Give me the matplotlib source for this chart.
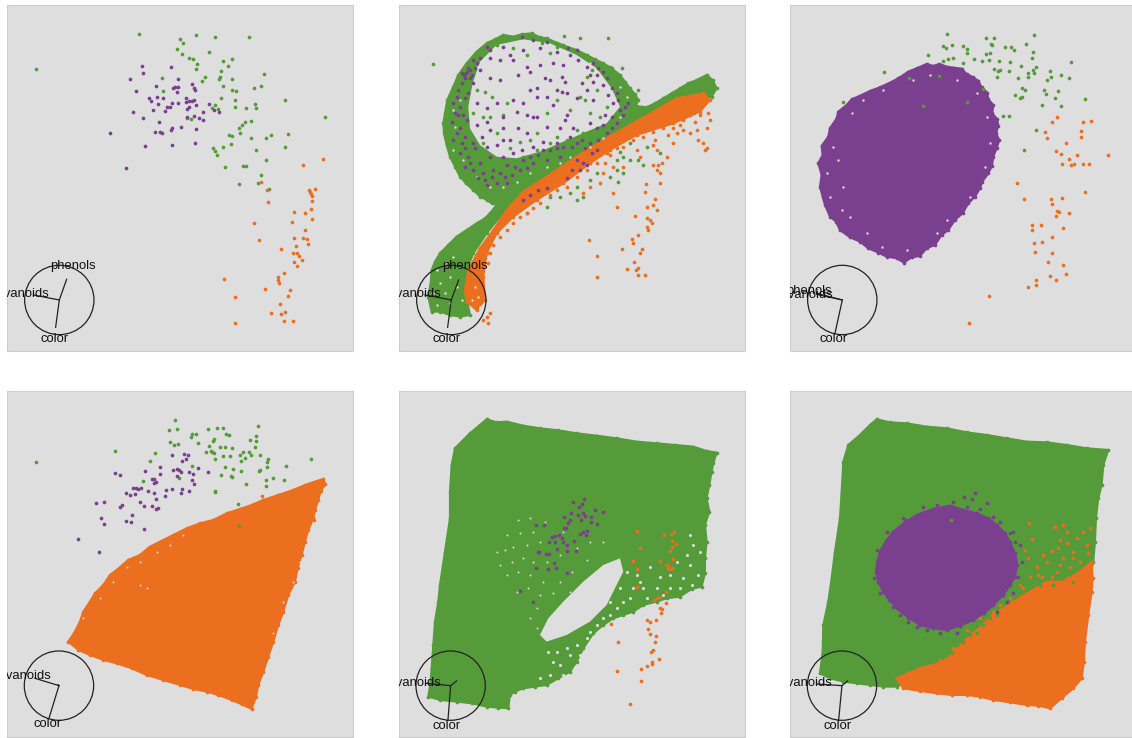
import numpy as np
import matplotlib
matplotlib.use('Agg')
import matplotlib.pyplot as plt
from matplotlib.patches import Circle

plt.rcParams['font.family'] = ['Liberation Sans', 'DejaVu Sans']

green = '#559b39'
orange = '#eb6f1f'
purple = '#7a408f'
bg = '#dedede'
edge = '#cdcdcd'

# all values are read off the picture, panel units (1 unit = 1/3 pixel)
# panel 1
p1_green = [(418,102),(541,118),(587,105),(645,111),(747,112),(550,129),(530,146),(627,156),(545,163),(566,173),(578,176),(669,183),(696,176),(592,192),(683,197),(589,207),(108,206),(664,212),(793,221),(614,230),(660,230),(657,238),(487,235),(696,238),(606,244),(670,258),(784,258),(762,264),(488,274),(696,270),(708,274),(664,295),(705,299),(856,299),(764,311),(646,316),(706,320),(737,324),(767,324),(635,324),(655,327),(975,352),(752,363),(736,367),(727,376),(718,385),(561,355),(574,356),(719,398),(686,404),(695,407),(752,413),(797,414),(812,404),(863,402),(692,433),(856,440),(670,442),(639,445),(644,453),(769,450),(652,466),(798,481),(675,500),(728,497),(739,497),(783,526),(718,551),(775,550),(808,566)]
p1_purple = [(426,197),(513,200),(429,218),(391,238),(535,238),(577,251),(469,259),(533,260),(526,262),(519,264),(583,265),(586,269),(407,272),(531,277),(447,295),(472,292),(489,293),(557,295),(583,299),(454,304),(558,306),(566,302),(575,304),(474,313),(516,309),(533,309),(628,313),(587,316),(500,320),(509,322),(568,321),(560,328),(459,329),(642,331),(658,336),(496,334),(400,336),(610,336),(583,348),(562,350),(430,353),(598,355),(609,360),(476,366),(543,380),(517,384),(512,390),(588,386),(331,399),(464,397),(479,396),(485,399),(435,438),(517,435),(586,429),(378,505)]
p1_orange = [(970,476),(909,494),(783,547),(800,571),(946,568),(926,570),(929,577),(932,582),(935,587),(935,603),(804,607),(934,628),(881,637),(915,640),(936,658),(877,665),(763,668),(916,691),(881,715),(908,713),(922,716),(776,720),(924,731),(888,739),(842,748),(880,760),(892,759),(898,767),(905,779),(883,787),(890,799),(851,818),(833,832),(834,840),(837,848),(673,837),(869,870),(796,866),(863,889),(704,892),(839,913),(812,938),(844,943),(855,937),(852,963),(879,963),(705,968)]

# panel 2
p2_green_cloud = [(340,105),(370,110),(395,103),(425,100),(450,112),(470,115),(500,128),(530,140),(560,150),(590,165),(615,178),(640,190),(665,205),(690,225),(705,245),(720,265),(735,283),(745,300),(738,318),(770,322),(795,310),(820,295),(845,280),(870,265),(895,250),(920,240),(950,225),(968,240),(980,265),(965,290),(930,300),(880,320),(820,345),(760,370),(700,395),(640,430),(580,470),(500,520),(440,560),(380,600),(330,650),(290,700),(250,760),(230,810),(225,870),(240,945),(210,950),(180,945),(150,935),(125,935),(115,890),(122,850),(125,810),(135,785),(150,760),(175,735),(200,710),(230,690),(260,670),(285,655),(300,640),(320,615),(305,610),(290,600),(270,590),(250,570),(228,550),(210,530),(195,500),(180,470),(170,435),(162,400),(160,370),(165,340),(172,300),(190,260),(205,225),(230,190),(260,155),(290,130),(315,118)]
p2_green_hole = [(270,185),(320,135),(400,118),(480,130),(560,165),(620,205),(665,265),(690,320),(650,370),(590,395),(520,425),(450,455),(380,475),(320,470),(270,435),(240,385),(235,320),(248,250)]
p2_orange_cloud = [(225,870),(235,810),(270,745),(310,690),(350,630),(400,575),(470,530),(560,470),(640,420),(720,375),(800,330),(860,295),(940,280),(960,300),(930,335),(850,370),(740,405),(660,450),(600,490),(520,550),(440,600),(370,650),(320,700),(290,760),(280,830),(285,900),(260,930),(230,905)]
p2_gaps = [(190,330),(210,300),(195,380),(190,450),(220,480),(260,530),(300,560),(340,560),(380,545),(420,520),(470,500),(510,490),(540,470),(600,440),(640,415),(690,350),(710,290),(690,260),(650,235),(600,190),(260,200),(140,810),(165,790),(150,850),(180,830),(130,880),(165,880),(200,860),(140,915),(180,910),(215,900),(205,800),(190,770),(255,860),(265,890),(245,900),(270,920)]
p2_green = [(285,275),(305,290),(340,345),(350,310),(300,350),(470,340),(570,290),(585,300),(600,340),(540,330),(500,300),(420,420),(440,400),(390,425),(480,430),(560,390),(580,400),(600,405),(410,165),(455,130),(480,160),(500,140),(520,135),(345,120),(370,145),(320,135),(285,150),(300,125),(580,165),(595,175),(605,210),(660,200),(523,109),(571,115),(655,115),(130,193),(695,205),(745,270),(680,480),(700,470),(720,480),(745,480),(760,495),(680,510),(700,520),(660,530),(685,545),(620,520),(600,540),(560,560),(540,580),(510,590),(480,590),(560,600),(580,590),(410,640),(470,620),(690,455),(720,430),(770,440),(810,460),(260,270),(280,350),(250,340),(320,400),(280,430),(360,445),(310,490),(400,470),(440,450),(500,410),(530,420),(590,410),(630,350),(650,320),(620,270),(590,230)]
p2_purple = [(290,140),(300,150),(360,165),(395,110),(430,120),(470,125),(535,145),(560,150),(330,180),(370,180),(410,200),(450,195),(490,190),(520,195),(565,180),(610,190),(625,205),(640,215),(620,225),(250,180),(235,205),(228,220),(240,235),(250,250),(225,235),(262,190),(270,175),(300,235),(330,240),(385,225),(420,215),(465,235),(480,240),(515,230),(525,245),(440,265),(420,270),(500,270),(515,275),(530,280),(575,250),(590,270),(560,295),(610,300),(650,235),(665,265),(685,300),(705,320),(700,345),(670,310),(645,345),(640,375),(235,280),(225,295),(210,320),(260,310),(290,325),(320,310),(370,300),(400,310),(440,290),(470,290),(490,315),(530,345),(525,360),(430,352),(440,352),(410,345),(380,335),(340,350),(290,365),(260,375),(230,360),(210,385),(225,410),(250,430),(275,410),(300,390),(340,385),(385,385),(410,400),(470,380),(510,385),(550,385),(600,370),(620,385),(360,420),(340,420),(320,435),(290,440),(255,445),(235,470),(270,490),(300,470),(340,470),(370,460),(395,450),(430,440),(460,425),(500,430),(540,410),(575,420),(390,510),(410,505),(350,495),(310,510),(280,520),(320,550),(350,550),(290,555),(430,490),(470,480),(510,470),(560,480),(580,490),(570,510),(590,495),(400,600),(420,585),(445,570),(470,565),(530,535),(545,510),(620,450),(605,460),(215,250),(205,270),(200,290),(190,310),(195,340),(185,365),(205,345),(220,345),(200,400),(190,420),(215,430),(210,460),(225,445),(240,490),(225,500),(250,510),(265,535),(285,540),(305,530),(330,520),(365,525),(345,530),(375,500),(400,480),(420,470),(445,465),(460,450),(480,450),(500,445),(520,440),(545,440),(560,430),(585,445),(600,430),(625,420),(650,400),(665,385),(680,370),(665,350),(690,330),(715,310),(680,280),(655,285),(640,255),(610,245),(600,225),(590,200),(540,165),(500,155),(450,145),(400,150),(340,140),(300,175),(270,210),(245,225),(232,215),(240,210),(222,225),(215,220),(255,205)]
p2_orange = [(680,445),(650,460),(645,490),(670,500),(700,500),(740,450),(750,470),(790,435),(800,450),(790,495),(805,495),(815,490),(830,470),(800,510),(640,520),(630,550),(600,560),(580,580),(810,520),(850,430),(860,400),(880,390),(900,400),(920,390),(950,385),(925,420),(940,430),(945,450),(950,445),(670,578),(767,553),(764,576),(810,548),(796,598),(680,622),(789,615),(802,630),(770,620),(735,647),(770,655),(780,660),(785,670),(770,680),(775,690),(745,705),(727,718),(730,730),(596,720),(695,747),(757,748),(622,768),(750,760),(733,785),(710,806),(745,805),(738,810),(622,831),(744,826),(766,826),(290,950),(295,968),(280,960),(300,940),(730,420),(700,440),(660,465),(620,490),(590,510),(560,530),(530,560),(500,570),(480,585),(450,610),(430,625),(410,640),(390,650),(370,670),(350,690),(330,710),(310,735),(300,760),(295,790),(760,410),(790,395),(820,385),(850,385),(880,360),(900,345),(930,345),(955,340),(960,360),(915,365),(870,375),(835,405),(795,420)]

# panel 3
p3_purple_cloud = [(440,192),(460,198),(478,192),(500,200),(520,203),(545,206),(560,222),(580,232),(595,243),(605,262),(622,278),(625,298),(640,315),(637,340),(652,358),(655,378),(648,400),(658,420),(650,445),(640,470),(636,498),(625,520),(607,545),(600,565),(585,590),(565,610),(548,640),(525,660),(505,690),(485,705),(465,735),(440,745),(420,768),(395,772),(372,788),(350,775),(320,770),(295,758),(265,745),(240,725),(210,712),(180,690),(168,665),(150,650),(135,615),(128,590),(120,560),(125,525),(115,490),(128,465),(125,438),(145,410),(150,385),(170,355),(175,335),(200,315),(215,298),(245,285),(272,272),(300,262),(330,248),(355,235),(385,215),(410,205)]
p3_green = [(500,102),(618,115),(641,115),(761,104),(737,131),(632,131),(637,134),(517,136),(489,139),(499,145),(548,137),(562,146),(674,141),(692,141),(703,150),(562,158),(629,158),(617,163),(760,156),(445,165),(757,175),(583,176),(520,173),(505,178),(490,184),(605,182),(626,180),(658,183),(689,187),(549,188),(873,187),(722,197),(768,201),(759,209),(643,208),(655,212),(660,211),(688,212),(811,212),(744,220),(761,220),(312,216),(476,228),(652,231),(713,234),(743,232),(386,233),(814,230),(844,226),(866,235),(800,241),(726,264),(736,269),(793,269),(835,272),(609,268),(799,283),(704,286),(725,291),(719,295),(824,294),(916,298),(189,306),(562,307),(786,315),(843,317),(430,319),(670,347),(686,347),(768,389),(733,450)]
p3_orange = [(830,352),(817,366),(909,366),(934,363),(902,392),(795,397),(802,413),(903,411),(857,428),(829,452),(843,462),(891,464),(984,464),(867,478),(847,493),(872,495),(883,491),(908,493),(928,493),(710,548),(914,577),(731,596),(813,597),(847,593),(817,613),(832,632),(838,637),(867,640),(827,649),(755,674),(784,676),(850,685),(757,690),(817,710),(785,725),(761,730),(766,756),(816,758),(805,787),(848,794),(858,821),(811,829),(827,840),(768,840),(768,854),(744,860),(628,889),(567,968)]
p3_gaps = [(160,440),(140,520),(175,480),(150,590),(185,630),(210,650),(190,560),(215,340),(250,300),(310,270),(400,240),(450,225),(530,240),(590,280),(620,350),(630,430),(615,500),(570,590),(500,660),(470,700),(305,740),(380,750),(260,700)]

# panel 4
p4_orange_cloud = [(970,282),(976,298),(962,318),(955,345),(945,375),(940,400),(925,435),(915,470),(905,510),(893,550),(885,590),(865,630),(850,680),(835,720),(820,770),(805,815),(790,860),(775,900),(768,935),(755,972),(725,958),(695,945),(655,930),(620,920),(580,912),(540,900),(490,885),(440,870),(395,850),(350,835),(310,825),(270,810),(235,795),(205,770),(222,745),(240,710),(250,680),(270,650),(285,625),(310,600),(330,570),(350,555),(385,525),(420,510),(450,485),(480,470),(520,450),(560,430),(600,415),(640,405),(680,385),(720,372),(755,360),(790,345),(835,330),(880,315),(915,300),(945,290)]
p4_gaps = [(380,545),(420,530),(470,500),(510,480),(550,450),(440,610),(420,600),(300,640),(340,590),(250,700),(900,530),(880,590),(850,650),(820,745)]
p4_green = [(525,105),(775,123),(508,135),(530,133),(625,131),(650,128),(670,128),(576,146),(589,146),(677,146),(687,151),(573,157),(642,163),(638,167),(751,166),(769,152),(768,169),(511,170),(521,181),(535,176),(595,174),(628,184),(659,187),(675,187),(696,190),(765,185),(346,197),(466,205),(618,201),(632,199),(637,200),(643,203),(728,201),(746,200),(670,212),(691,212),(719,210),(753,211),(781,209),(736,219),(644,222),(724,227),(804,222),(932,222),(451,227),(802,232),(575,243),(674,245),(698,251),(801,245),(859,242),(108,231),(723,257),(780,254),(776,257),(663,269),(692,272),(696,276),(537,278),(820,279),(851,284),(798,286),(429,287),(739,296),(797,302),(644,317),(644,322),(715,358),(717,423)]
p4_purple = [(515,211),(551,207),(565,209),(558,221),(547,227),(480,246),(595,249),(435,257),(520,254),(530,251),(537,255),(542,260),(566,260),(579,266),(625,260),(344,265),(361,271),(480,268),(530,273),(456,281),(461,283),(468,290),(577,284),(463,295),(583,297),(398,309),(409,309),(414,311),(423,310),(517,312),(547,311),(497,316),(444,318),(567,319),(377,325),(391,330),(406,328),(461,324),(543,325),(495,334),(468,343),(312,351),(288,355),(419,350),(367,360),(360,365),(431,362),(455,362),(473,369),(469,372),(395,391),(304,400),(379,409),(393,412),(313,418),(432,432),(233,462),(297,502)]
p4_orange = [(786,334),(943,404)]

# panel 5
p5_green_cloud = [(270,120),(290,103),(320,112),(350,110),(400,122),(450,130),(505,136),(560,145),(620,152),(680,160),(740,170),(800,175),(855,180),(910,185),(950,198),(980,203),(970,235),(965,260),(958,300),(950,340),(958,380),(945,420),(950,470),(945,520),(945,565),(935,605),(905,612),(870,635),(830,640),(800,650),(760,660),(730,680),(700,690),(670,700),(640,720),(610,745),(580,790),(560,830),(540,860),(505,880),(470,900),(435,905),(400,910),(375,920),(360,930),(355,970),(325,968),(290,965),(245,955),(200,950),(150,945),(115,935),(122,890),(125,850),(130,780),(135,710),(145,650),(150,600),(165,500),(180,400),(180,320),(185,240),(195,190),(215,170),(240,145)]
p5_green_hole = [(690,520),(640,540),(580,590),(520,650),(475,700),(450,750),(470,770),(530,750),(600,710),(650,660),(680,600),(700,560)]
p5_gaps = [(385,405),(420,400),(350,450),(390,445),(430,440),(465,410),(320,500),(345,495),(370,485),(410,480),(450,470),(520,440),(330,540),(365,530),(400,520),(430,530),(470,530),(510,510),(560,490),(600,470),(640,470),(350,570),(385,560),(420,570),(460,590),(510,590),(545,560),(590,525),(380,620),(415,610),(450,630),(490,625),(540,620),(440,670),(420,700),(440,730)]
p5_gaps_big = [(710,560),(740,570),(780,545),(810,575),(860,530),(900,540),(880,580),(760,610),(800,610),(910,480),(690,610),(720,640),(840,610),(925,570),(905,600),(870,610),(820,630),(770,640),(730,610),(700,650),(660,690),(620,720),(590,760),(560,780),(540,810),(510,840),(480,870),(660,650),(640,700),(600,740),(570,810),(530,790),(500,800),(490,830),(520,870),(450,880),(475,800),(680,670),(750,590),(840,570),(930,500),(890,510),(900,450)]
p5_purple = [(582,342),(548,352),(576,357),(568,365),(616,376),(638,382),(521,395),(542,383),(565,390),(578,385),(585,392),(604,395),(572,405),(541,405),(604,412),(533,415),(622,418),(438,421),(462,421),(528,428),(522,430),(580,440),(592,438),(570,446),(588,450),(508,450),(495,453),(485,456),(477,472),(516,460),(518,470),(495,472),(553,468),(532,481),(502,491),(532,497),(558,498),(443,500),(447,500),(467,507),(478,507),(492,533),(438,548),(475,553),(499,550),(530,564),(390,618),(430,652)]
p5_orange = [(742,438),(851,442),(843,446),(821,451),(846,468),(857,477),(847,485),(750,490),(839,499),(848,522),(809,528),(730,528),(832,541),(835,550),(847,550),(840,553),(742,553),(742,605),(829,620),(810,635),(801,640),(793,644),(829,654),(811,668),(816,673),(814,683),(771,706),(779,711),(799,706),(773,732),(797,752),(780,747),(795,772),(663,718),(685,772),(790,796),(784,800),(807,822),(786,830),(786,838),(771,842),(754,853),(682,858),(752,888),(720,957)]

# panel 6
p6_green_cloud = [(270,120),(290,103),(330,112),(380,115),(440,125),(500,130),(560,142),(620,150),(680,160),(740,170),(800,172),(860,180),(920,190),(985,195),(970,240),(965,300),(955,340),(948,400),(945,470),(940,530),(930,580),(920,640),(350,905),(310,905),(270,900),(230,895),(190,890),(150,880),(120,865),(128,800),(130,720),(145,650),(155,580),(165,500),(180,400),(185,320),(190,230),(205,180),(240,150)]
p6_orange_cloud = [(350,880),(420,850),(490,830),(530,790),(580,745),(640,690),(700,650),(750,620),(800,590),(850,590),(900,560),(935,530),(938,580),(935,620),(925,690),(915,770),(912,830),(905,880),(880,910),(845,940),(810,970),(775,962),(740,960),(690,952),(640,945),(600,935),(560,930),(515,930),(470,925),(420,918),(370,910)]
p6_purple_cloud = [(510,362),(550,375),(590,385),(625,400),(650,420),(675,445),(690,470),(705,505),(712,540),(705,575),(690,600),(670,630),(640,660),(612,685),(580,705),(540,722),(500,735),(460,730),(420,720),(385,698),(350,670),(328,645),(310,620),(295,590),(288,560),(292,530),(300,500),(318,468),(340,440),(375,412),(410,390),(460,372)]
p6_purple = [(585,325),(575,342),(620,354),(553,335),(470,360),(520,352),(560,365),(640,395),(700,440),(720,480),(745,520),(715,575),(300,590),(330,640),(360,690),(410,725),(480,745),(600,372),(660,410),(690,445),(705,470),(725,530),(720,600),(700,625),(680,650),(650,680),(530,745),(440,735),(385,712),(340,665),(300,625),(282,580),(290,495),(320,440),(370,400),(430,365),(375,405)]
p6_orange = [(746,414),(850,420),(826,425),(860,440),(840,465),(755,462),(735,496),(815,498),(745,520),(850,520),(880,500),(920,480),(930,430),(770,545),(800,530),(830,560),(870,545),(900,530),(750,575),(785,575),(815,575),(860,580),(905,560),(720,600),(690,640),(640,680),(600,700),(560,735),(520,790),(480,825),(835,490),(860,475),(890,460),(910,440),(925,505),(840,540),(880,520),(790,510),(775,570),(730,610),(660,660)]
p6_green = [(512,405),(780,600),(820,600),(700,640),(650,690),(610,720),(570,750),(530,780),(500,810),(460,830),(420,840),(880,590),(680,650),(630,700),(590,745),(550,770),(515,805),(740,610),(850,575)]

categories = [(p1_green, p1_purple, p1_orange), (p2_green, p2_purple, p2_orange),
              (p3_green, [], p3_orange), (p4_green, p4_purple, p4_orange),
              ([], p5_purple, p5_orange), (p6_green, p6_purple, p6_orange)]

# panel left/top edges in panel units
x_starts = [22, 28, 31, 22, 28, 31]
y_starts = [16, 16, 16, 19, 19, 19]
ax_left = [7.3, 399.3, 790.3, 7.3, 399.3, 790.3]
ax_top = [5.3, 5.3, 5.3, 391.3, 391.3, 391.3]

# biplot glyphs: centre, then axis tips
centres = [(178,900), (184,900), (187,900), (177,902), (182,902), (186,902)]
tip_phenols = [(200,838), (206,840), (110,880), (174,899), (200,888), (203,888)]
tip_flav = [(100,885), (105,885), (110,883), (105,880), (108,895), (110,897)]
tip_color = [(167,982), (173,982), (165,1000), (147,1000), (174,1005), (176,1005)]
lab_phenols = [(218,798), (224,798), (88,873), None, None, None]
lab_flav = [(150,881), (156,881), (160,884), (154,873), (155,893), (158,893)]
lab_color = [(163,1018), (169,1018), (162,1017), (142,1017), (170,1023), (174,1023)]


def cloud(ax, outline, col, z=2):
    pts = np.array(outline)
    ax.fill(pts[:, 0], pts[:, 1], color=col, lw=1.5, zorder=z)
    ax.scatter(pts[:, 0], pts[:, 1], s=7, color=col, lw=0, zorder=z)


def dots(ax, pts, col, s=7, z=5):
    if len(pts) == 0:
        return
    pts = np.array(pts)
    ax.scatter(pts[:, 0], pts[:, 1], s=s, color=col, lw=0, zorder=z)


fig = plt.figure(figsize=(11.32, 7.38), dpi=100)
axes = []
for i in range(6):
    ax = fig.add_axes([ax_left[i] / 1132, 1 - (ax_top[i] + 346) / 738, 346 / 1132, 346 / 738])
    ax.set_xlim(x_starts[i], x_starts[i] + 1038)
    ax.set_ylim(y_starts[i] + 1038, y_starts[i])
    ax.set_xticks([])
    ax.set_yticks([])
    ax.set_facecolor(bg)
    for s in ax.spines.values():
        s.set_color(edge)
        s.set_linewidth(0.8)
    axes.append(ax)

cloud(axes[1], p2_green_cloud, green)
axes[1].fill(*zip(*p2_green_hole), color=bg, lw=0, zorder=2.5)
cloud(axes[1], p2_orange_cloud, orange, z=3)
dots(axes[1], p2_gaps, bg, s=3, z=3.5)
cloud(axes[2], p3_purple_cloud, purple)
dots(axes[2], p3_gaps, bg, s=3, z=3.5)
cloud(axes[3], p4_orange_cloud, orange)
dots(axes[3], p4_gaps, bg, s=2, z=3.5)
cloud(axes[4], p5_green_cloud, green)
axes[4].fill(*zip(*p5_green_hole), color=bg, lw=0, zorder=2.5)
dots(axes[4], p5_gaps, bg, s=2, z=3.5)
dots(axes[4], p5_gaps_big, bg, s=5, z=3.5)
cloud(axes[5], p6_green_cloud, green)
cloud(axes[5], p6_orange_cloud, orange, z=3)
cloud(axes[5], p6_purple_cloud, purple, z=3)

for i, (g, p, o) in enumerate(categories):
    dots(axes[i], g, green)
    dots(axes[i], p, purple)
    dots(axes[i], o, orange)

for i, ax in enumerate(axes):
    cx, cy = centres[i]
    ax.add_patch(Circle((cx, cy), 104, fill=False, ec='#222222', lw=0.9, zorder=8))
    for tip in (tip_phenols[i], tip_flav[i], tip_color[i]):
        ax.plot([cx, tip[0]], [cy, tip[1]], color='#222222', lw=0.9, zorder=8)
    if lab_phenols[i]:
        ax.text(lab_phenols[i][0], lab_phenols[i][1], 'phenols', ha='center', va='center',
                fontsize=9.4, color='#111111', clip_on=True, zorder=9)
    ax.text(lab_flav[i][0], lab_flav[i][1], 'flavanoids', ha='right', va='center',
            fontsize=9.4, color='#111111', clip_on=True, zorder=9)
    ax.text(lab_color[i][0], lab_color[i][1], 'color', ha='center', va='center',
            fontsize=9.4, color='#111111', clip_on=True, zorder=9)

fig.savefig('out.png', dpi=100)
